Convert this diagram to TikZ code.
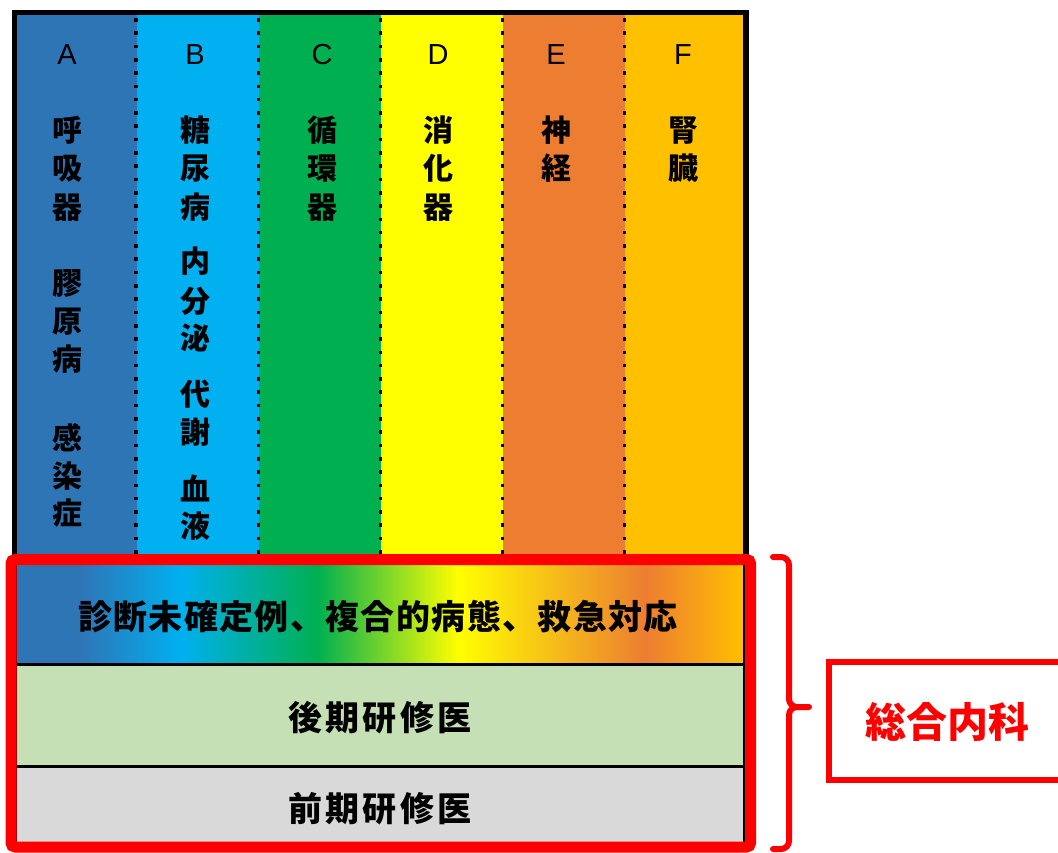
\documentclass[tikz,border=0pt]{standalone}
\usepackage{fontspec}
\setmainfont{Liberation Sans}
\newfontfamily\cjk{Noto Sans CJK JP}
\newfontfamily\cjkwide{Noto Sans CJK JP}[LetterSpace=4]
\newfontfamily\cjkwider{Noto Sans CJK JP}[LetterSpace=10]
\definecolor{colA}{HTML}{2E75B6}
\definecolor{colB}{HTML}{00B0F0}
\definecolor{colC}{HTML}{00B050}
\definecolor{colD}{HTML}{FFFF00}
\definecolor{colE}{HTML}{ED7D31}
\definecolor{colF}{HTML}{FFC000}
\definecolor{rowG}{HTML}{C5E0B4}
\definecolor{rowS}{HTML}{D9D9D9}
\definecolor{brRed}{HTML}{FF0000}
\tikzset{
  kan/.style={font=\cjk\bfseries\fontsize{30}{30}\selectfont, inner sep=0pt, anchor=base},
  letter/.style={font=\fontsize{29}{29}\selectfont, inner sep=0pt, anchor=base},
  sepdots/.style={line width=3.6pt, dash pattern=on 3.6pt off 9.7pt, black},
  rowtext/.style={inner sep=0pt, anchor=base},
  redline/.style={brRed, line width=6pt, line cap=round, line join=round},
}
\begin{document}
\begin{tikzpicture}[x=1pt,y=-1pt]
\useasboundingbox (0,0) rectangle (1058,852);
% columns
\fill[colA] (14.5,12.5) rectangle (136.5,560);
\fill[colB] (136.5,12.5) rectangle (258.5,560);
\fill[colC] (258.5,12.5) rectangle (380.5,560);
\fill[colD] (380.5,12.5) rectangle (502.5,560);
\fill[colE] (502.5,12.5) rectangle (624.5,560);
\fill[colF] (624.5,12.5) rectangle (746.5,560);
% gradient row
\shade[left color=colA, right color=colA] (17,565) rectangle (80.5,664.5);
\shade[left color=colA, right color=colB] (80,565) rectangle (180.5,664.5);
\shade[left color=colB, right color=colC] (180,565) rectangle (318.5,664.5);
\shade[left color=colC, right color=colD] (318,565) rectangle (458.5,664.5);
\shade[left color=colD, right color=colE] (458,565) rectangle (645.5,664.5);
\shade[left color=colE, right color=colF] (645,565) rectangle (744,664.5);
\fill[rowG] (17,664.5) rectangle (744,766.5);
\fill[rowS] (17,766.5) rectangle (744,843);
\draw[line width=3pt] (17,664.5) -- (744,664.5);
\draw[line width=3pt] (17,766.5) -- (744,766.5);
% black frame
\draw[line width=5.5pt] (14.5,12.5) rectangle (746,845);
% dotted separators
\foreach \x in {136,258.5,380.5,502.5,624.5}{
  \draw[sepdots] (\x,18) -- (\x,556);
}
% red box
\draw[brRed, line width=11pt, rounded corners=4pt] (11,559.5) rectangle (750.5,847);
% column letters
\node[letter] (lA) at (67,64) {A};
\node[letter] (lB) at (195,64) {B};
\node[letter] (lC) at (322,64) {C};
\node[letter] (lD) at (438,64) {D};
\node[letter] (lE) at (556,64) {E};
\node[letter] (lF) at (683,64) {F};
% column kanji
\foreach \c/\y [count=\i] in {呼/130,吸/168,器/207,膠/283,原/321,病/359,感/438,染/476,症/513}
  \node[kan] (ka\i) at (67,\y+11) {\c};
\foreach \c/\y [count=\i] in {糖/130,尿/168,病/207,内/261,分/301,泌/338,代/394,謝/432,血/489,液/526}
  \node[kan] (kb\i) at (195,\y+11) {\c};
\foreach \c/\y [count=\i] in {循/130,環/168,器/207}
  \node[kan] (kc\i) at (322,\y+11) {\c};
\foreach \c/\y [count=\i] in {消/130,化/168,器/207}
  \node[kan] (kd\i) at (438,\y+11) {\c};
\foreach \c/\y [count=\i] in {神/130,経/168}
  \node[kan] (ke\i) at (556,\y+11) {\c};
\foreach \c/\y [count=\i] in {腎/130,臓/168}
  \node[kan] (kf\i) at (683,\y+11) {\c};
% row texts
\node[rowtext, font=\cjkwide\bfseries\fontsize{34}{34}\selectfont] (tgrad) at (378,629) {診断未確定例、複合的病態、救急対応};
\node[rowtext, font=\cjkwider\bfseries\fontsize{34}{34}\selectfont] (tlate) at (380,730) {後期研修医};
\node[rowtext, font=\cjkwider\bfseries\fontsize{34}{34}\selectfont] (tearly) at (380,821) {前期研修医};
% brace
\draw[redline] (773,557) -- (781,557) to[out=0,in=90] (789,565) -- (789,699) to[out=-90,in=180] (797,707) -- (809,707);
\draw[redline] (797,707) to[out=180,in=90] (789,715) -- (789,841) to[out=-90,in=0] (781,849) -- (773,849);
% general internal medicine box
\draw[brRed, line width=5.5pt] (1075,662) -- (829,662) -- (829,780) -- (1075,780);
\node[rowtext, text=brRed, font=\cjk\bfseries\fontsize{41}{41}\selectfont] (tgim) at (947,737) {総合内科};
\end{tikzpicture}
\end{document}
